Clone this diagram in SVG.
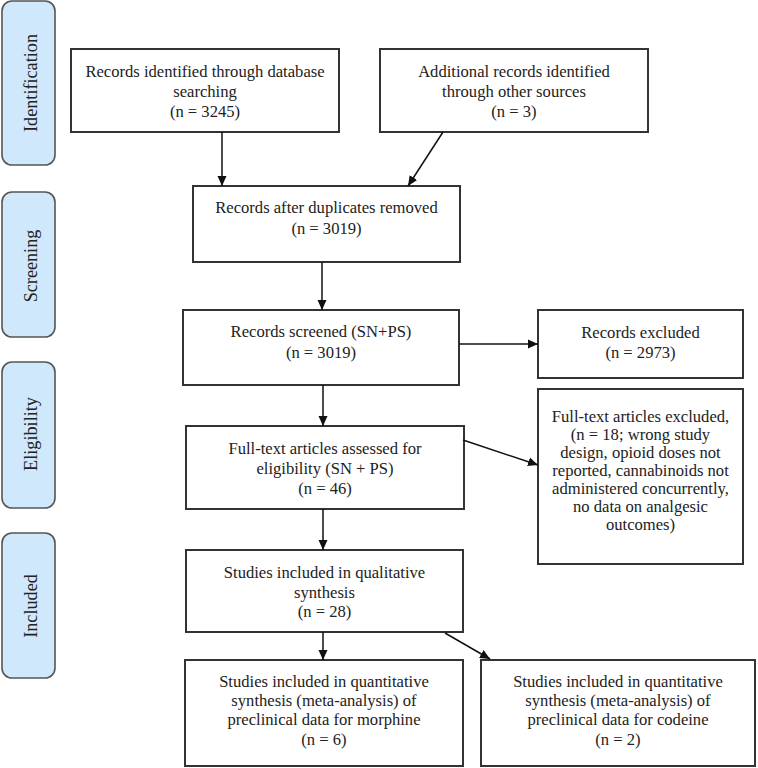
<svg xmlns="http://www.w3.org/2000/svg" width="758" height="768" viewBox="0 0 758 768">
<defs>
<style>
.box{fill:#fff;stroke:#333;stroke-width:2}
.side{fill:#cfe8fb;stroke:#555;stroke-width:1.6}
.t{font-family:"Liberation Serif","Times New Roman",serif;font-size:16.6px;fill:#222;text-anchor:middle}
.s{font-family:"Liberation Serif","Times New Roman",serif;font-size:18.2px;fill:#222;text-anchor:middle}
.c{stroke:#111;stroke-width:1.5;fill:none;marker-end:url(#ah)}
</style>
<marker id="ah" markerUnits="userSpaceOnUse" markerWidth="10" markerHeight="10" refX="10" refY="5" orient="auto">
<path d="M0,0.5 L10,5 L0,9.5 z" fill="#111"/>
</marker>
</defs>
<rect width="758" height="768" fill="#fff"/>
<g id="side-identification"><rect class="side" x="2" y="1" width="53" height="164" rx="10"/><text class="s" transform="translate(36.5,83) rotate(-90)">Identification</text></g>
<g id="side-screening"><rect class="side" x="2" y="192" width="53" height="145" rx="10"/><text class="s" transform="translate(36.5,266) rotate(-90)">Screening</text></g>
<g id="side-eligibility"><rect class="side" x="2" y="362" width="53" height="146" rx="10"/><text class="s" transform="translate(36.5,434) rotate(-90)">Eligibility</text></g>
<g id="side-included"><rect class="side" x="2" y="533" width="53" height="145" rx="10"/><text class="s" transform="translate(36.5,606) rotate(-90)">Included</text></g>

<g id="db"><rect class="box" x="71" y="49" width="268" height="83"/><text class="t" x="205" y="77">Records identified through database</text><text class="t" x="205" y="97">searching</text><text class="t" x="205" y="117">(n = 3245)</text></g>
<g id="other"><rect class="box" x="380" y="49" width="268" height="83"/><text class="t" x="514" y="77">Additional records identified</text><text class="t" x="514" y="97">through other sources</text><text class="t" x="514" y="117">(n = 3)</text></g>
<g id="dup"><rect class="box" x="193" y="186" width="267" height="76"/><text class="t" x="326.5" y="213">Records after duplicates removed</text><text class="t" x="326.5" y="234">(n = 3019)</text></g>
<g id="screened"><rect class="box" x="183" y="310" width="276" height="75"/><text class="t" x="321" y="337">Records screened (SN+PS)</text><text class="t" x="321" y="358">(n = 3019)</text></g>
<g id="excluded"><rect class="box" x="538" y="310" width="205" height="68"/><text class="t" x="640.5" y="338">Records excluded</text><text class="t" x="640.5" y="358">(n = 2973)</text></g>
<g id="ft-excluded"><rect class="box" x="538" y="389" width="205" height="175"/>
<text class="t" x="640.5" y="422">Full-text articles excluded,</text>
<text class="t" x="640.5" y="440">(n = 18; wrong study</text>
<text class="t" x="640.5" y="458">design, opioid doses not</text>
<text class="t" x="640.5" y="476">reported, cannabinoids not</text>
<text class="t" x="640.5" y="494">administered concurrently,</text>
<text class="t" x="640.5" y="512">no data on analgesic</text>
<text class="t" x="640.5" y="530">outcomes)</text></g>
<g id="ft-assessed"><rect class="box" x="186" y="426" width="278" height="83"/><text class="t" x="325" y="454">Full-text articles assessed for</text><text class="t" x="325" y="474">eligibility (SN + PS)</text><text class="t" x="325" y="494">(n = 46)</text></g>
<g id="qual"><rect class="box" x="186" y="550" width="277" height="82"/><text class="t" x="324.5" y="578">Studies included in qualitative</text><text class="t" x="324.5" y="598">synthesis</text><text class="t" x="324.5" y="617">(n = 28)</text></g>
<g id="morphine"><rect class="box" x="185" y="660" width="278" height="106"/><text class="t" x="324" y="687">Studies included in quantitative</text><text class="t" x="324" y="706">synthesis (meta-analysis) of</text><text class="t" x="324" y="725">preclinical data for morphine</text><text class="t" x="324" y="745">(n = 6)</text></g>
<g id="codeine"><rect class="box" x="481" y="660" width="274" height="106"/><text class="t" x="618" y="687">Studies included in quantitative</text><text class="t" x="618" y="706">synthesis (meta-analysis) of</text><text class="t" x="618" y="725">preclinical data for codeine</text><text class="t" x="618" y="745">(n = 2)</text></g>

<g id="connectors">
<line class="c" x1="222" y1="132" x2="222" y2="186"/>
<line class="c" x1="443" y1="132" x2="408" y2="186"/>
<line class="c" x1="322" y1="262" x2="322" y2="310"/>
<line class="c" x1="459" y1="344" x2="538" y2="344"/>
<line class="c" x1="323" y1="385" x2="323" y2="426"/>
<line class="c" x1="463" y1="440" x2="538" y2="465"/>
<line class="c" x1="323" y1="509" x2="323" y2="550"/>
<line class="c" x1="323" y1="632" x2="323" y2="660"/>
<line class="c" x1="445" y1="633" x2="490" y2="659"/>
</g>
</svg>
